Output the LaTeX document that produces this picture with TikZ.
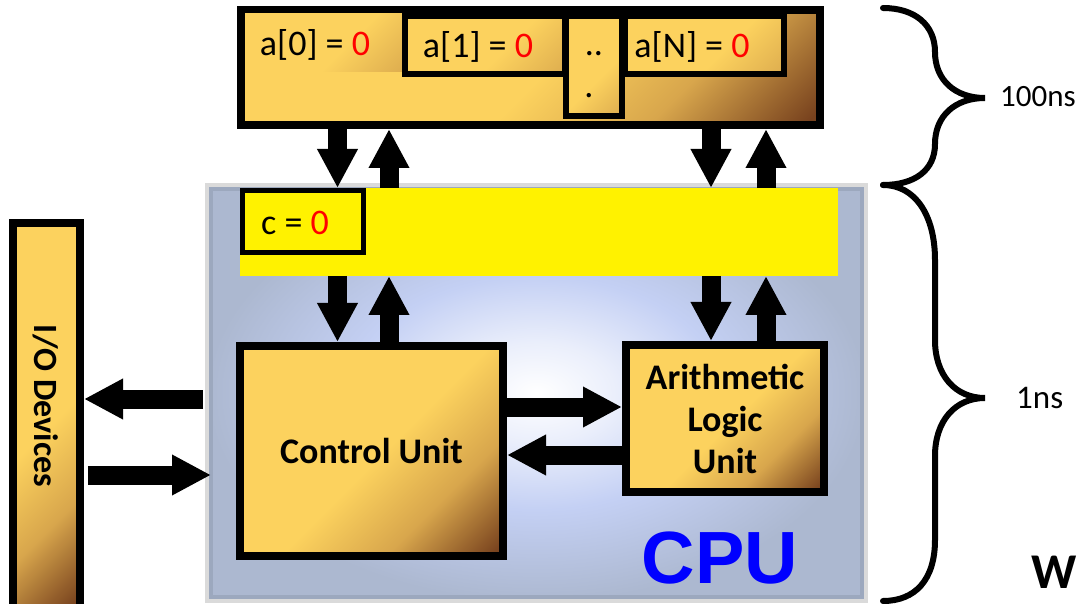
\documentclass[tikz,border=0pt]{standalone}
\usepackage{fontspec}
\setmainfont{Carlito}
\newfontfamily\cpufont{Liberation Sans}
\usetikzlibrary{arrows.meta}
\definecolor{goldA}{RGB}{252,210,94}
\definecolor{goldB}{RGB}{216,166,76}
\definecolor{goldC}{RGB}{120,66,30}
\definecolor{cpuEdge}{RGB}{172,184,208}
\definecolor{cpuMid}{RGB}{196,208,244}
\definecolor{cpuRim}{RGB}{218,218,218}
\definecolor{cpuLine}{RGB}{156,168,190}
\pgfdeclarehorizontalshading{goldfade}{100bp}{color(0bp)=(goldA); color(52bp)=(goldA); color(68bp)=(goldB); color(84bp)=(goldC); color(100bp)=(goldC)}
\pgfdeclarehorizontalshading{cellfade}{100bp}{color(0bp)=(goldA); color(58bp)=(goldA); color(90bp)=(goldB); color(100bp)=(goldB)}
\pgfdeclareradialshading{cpuglow}{\pgfpoint{0bp}{0bp}}{color(0bp)=(white); color(6bp)=(cpuMid!35!white); color(14bp)=(cpuMid); color(25bp)=(cpuEdge); color(50bp)=(cpuEdge)}
\newcommand{\redzero}{\textcolor{red}{0}}
\begin{document}
\begin{tikzpicture}[x=1pt,y=-1pt,
    goldbox/.style={draw=black, line width=8pt, inner sep=0pt, shading=goldfade, shading angle=-45},
    cellbox/.style={draw=black, line width=6pt, inner sep=0pt, shading=cellfade, shading angle=-45},
    bigarrow/.style={line width=19pt, -{Triangle[width=38pt,length=39pt]}},
    celltext/.style={font=\fontsize{36}{42}\selectfont},
    unittext/.style={font=\fontsize{36}{42}\selectfont\bfseries, align=center},
    bracestroke/.style={line width=6pt, line cap=round},
  ]
  \useasboundingbox (0,0) rectangle (1080,604);
  % CPU background
  \node[draw=cpuRim, line width=4pt, shading=cpuglow, inner sep=0pt,
    minimum width=659pt, minimum height=416pt] (cpu) at (536.5,393) {};
  \draw[cpuLine, line width=4pt] ([shift={(6,6)}]cpu.north west) rectangle ([shift={(-6,-6)}]cpu.south east);
  % Cache band and register
  \node[fill=yellow, inner sep=0pt, outer sep=0pt, minimum width=598pt, minimum height=88pt] (cache) at (539,232) {};
  \node[draw=black, fill=yellow, line width=5pt, inner sep=0pt,
    minimum width=121pt, minimum height=62pt] (cvar) at (303,221.5) {};
  \node[celltext] at (295,223) {c = \redzero};
  % Control unit and ALU
  \node[goldbox, unittext, minimum width=263pt, minimum height=210pt] (cu) at (371.5,451) {Control Unit};
  \node[goldbox, unittext, minimum width=198pt, minimum height=147pt] (alu) at (725,418.5) {Arithmetic\\Logic\\Unit};
  \node[font=\cpufont\fontsize{74}{80}\selectfont\bfseries, text=blue, anchor=base] (cpulabel) at (720,583) {CPU};
  % Main memory
  \node[goldbox, minimum width=579pt, minimum height=115pt] (mem) at (530.5,67.5) {};
  \node[inner sep=0pt, shading=cellfade, shading angle=-45, minimum width=159pt, minimum height=58pt] (a0) at (324.5,43) {};
  \node[cellbox, minimum width=160pt, minimum height=58pt] (a1) at (485,45) {};
  \node[cellbox, minimum width=159pt, minimum height=58pt] (aN) at (704.5,45) {};
  \node[cellbox, minimum width=56pt, minimum height=100pt] (dots) at (594,66) {};
  \node[celltext] at (315,45) {a[0] = \redzero};
  \node[celltext] at (478,47) {a[1] = \redzero};
  \node[celltext] at (692,47) {a[N] = \redzero};
  \node[celltext, anchor=base] at (594,56) {..};
  \node[celltext, anchor=base] at (589,98) {.};
  % I/O devices
  \node[goldbox, minimum width=67pt, minimum height=387pt] (io) at (46.5,416.5) {};
  \node[font=\fontsize{34}{40}\selectfont\bfseries, rotate=-90] at (46,406) {I/O Devices};
  % Buses
  \foreach \xd/\xu/\blk in {337.5/389/cu, 711/766/alu} {
    \draw[bigarrow] (\xd,0 |- mem.south) -- (\xd,0 |- cache.north);
    \draw[bigarrow] (\xu,0 |- cache.north) -- (\xu,0 |- mem.south);
    \draw[bigarrow] (\xd,0 |- cache.south) -- (\xd,0 |- \blk.north);
    \draw[bigarrow] (\xu,0 |- \blk.north) -- (\xu,0 |- cache.south);
  }
  \draw[bigarrow] (cu.east |- 0,407) -- (alu.west |- 0,407);
  \draw[bigarrow] (alu.west |- 0,455) -- (cu.east |- 0,455);
  \draw[bigarrow, shorten <=2pt] (cpu.west |- 0,399) -- (io.east |- 0,399);
  \draw[bigarrow, shorten <=4pt, shorten >=-6pt] (io.east |- 0,475) -- (cpu.west |- 0,475);
  % Braces with timings
  \draw[bracestroke] (883,8) .. controls (915,8) and (935,25) .. (935,52)
    .. controls (935,80) and (955,98) .. (985,98)
    .. controls (955,98) and (935,116) .. (935,144)
    .. controls (935,170) and (915,185) .. (883,185);
  \draw[bracestroke] (883,185) .. controls (915,185) and (935,215) .. (935,260) -- (935,340)
    .. controls (935,375) and (955,398) .. (985,398)
    .. controls (955,398) and (935,421) .. (935,456) -- (935,540)
    .. controls (935,580) and (915,601) .. (883,601);
  \node[font=\fontsize{31}{38}\selectfont, anchor=west, inner sep=0pt] (slow) at (1000,97) {100ns};
  \node[font=\fontsize{33}{40}\selectfont, anchor=west, inner sep=0pt] (fast) at (1016,398) {1ns};
  \node[font=\fontsize{50}{60}\selectfont\bfseries, anchor=base west, inner sep=0pt] (word) at (1031,588) {W};
\end{tikzpicture}
\end{document}
